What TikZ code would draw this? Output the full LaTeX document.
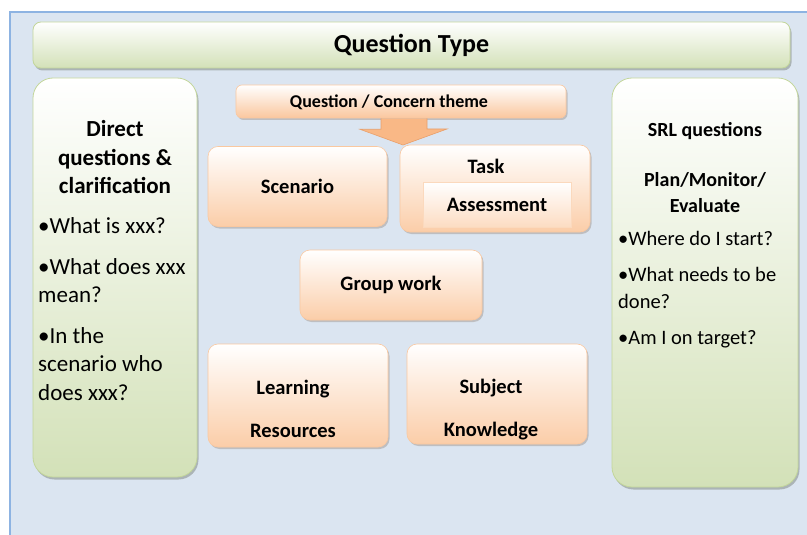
\documentclass[tikz,border=0pt]{standalone}
\usepackage{fontspec}
\setmainfont{Carlito}
\usetikzlibrary{shadows}

\definecolor{fondo}{HTML}{DBE5F1}
\definecolor{borde}{HTML}{8DB3E2}
\definecolor{verde}{HTML}{D3E1B8}
\definecolor{verdeborde}{HTML}{C3D69B}
\definecolor{naranja}{HTML}{FBCDA8}
\definecolor{naranjaborde}{HTML}{FAC8A0}
\definecolor{flecha}{HTML}{F9B886}
\definecolor{flechaborde}{HTML}{E9A06C}

\tikzset{
  cajaverde/.style={draw=verdeborde, line width=0.8pt, top color=white, bottom color=verde,
    rounded corners=20pt, inner sep=0pt,
    drop shadow={opacity=0.35, fill=black!60!verde, shadow xshift=1.5pt, shadow yshift=-2.5pt}},
  cajanaranja/.style={draw=naranjaborde, line width=0.6pt, top color=white, bottom color=naranja,
    rounded corners=10pt, inner sep=0pt, font=\bfseries\fontsize{20.5}{24}\selectfont,
    drop shadow={opacity=0.3, fill=black!50!naranja, shadow xshift=1.5pt, shadow yshift=-2pt}},
  rotulo/.style={font=\bfseries\fontsize{20.5}{24}\selectfont, inner sep=0pt, align=center},
}

\begin{document}
\begin{tikzpicture}[x=1pt,y=-1pt]
  \useasboundingbox (0,0) rectangle (807,535);

  % Fondo de la diapositiva
  \fill[fondo] (10,12) rectangle (807,535);
  \draw[borde, line width=1.2pt] (10,535) -- (10,12) -- (807,12);

  % Titulo
  \node[cajaverde, rounded corners=8pt, minimum width=757pt, minimum height=46pt,
        font=\bfseries\fontsize{26}{30}\selectfont] (titulo) at (411.5,45) {Question Type};

  % Columna izquierda: preguntas directas
  \node[cajaverde, minimum width=164pt, minimum height=399pt] (izq) at (115,277.5) {};
  \node[anchor=north, inner sep=0pt, align=center, font=\bfseries\fontsize{23}{28.5}\selectfont]
    (izqtit) at (115,120.5) {Direct\\questions \&\\clarification};
  \node[anchor=north west, inner sep=0pt, align=left, font=\fontsize{23}{28.5}\selectfont]
    (izqlista) at (38,217.5) {\textbullet What is xxx?\\[12pt]
      \textbullet What does xxx\\mean?\\[12pt]
      \textbullet In the\\scenario who\\does xxx?};

  % Columna derecha: preguntas SRL
  \node[cajaverde, minimum width=186pt, minimum height=409pt] (der) at (705,282.5) {};
  \node[anchor=north, inner sep=0pt, align=center, font=\bfseries\fontsize{20}{25.5}\selectfont]
    (dertit) at (705,122) {SRL questions\\[25pt]Plan/Monitor/\\Evaluate};
  \node[anchor=north west, inner sep=0pt, align=left, font=\fontsize{20.5}{27}\selectfont]
    (derlista) at (618,231) {\textbullet Where do I start?\\[9pt]
      \textbullet What needs to be\\done?\\[9pt]
      \textbullet Am I on target?};

  % Tema de la pregunta y flecha
  \node[cajanaranja, rounded corners=6pt, minimum width=330pt, minimum height=33pt,
        bottom color=naranja!70!flecha] (tema) at (401,101.5) {};
  \node[rotulo, anchor=base, font=\bfseries\fontsize{18}{20}\selectfont] (tematxt) at (389,108) {Question / Concern theme};
  \coordinate (punta) at (403,145);
  \path[fill=flecha, draw=flechaborde, line width=0.6pt]
    ([xshift=-22pt]punta |- tema.south) -- ++(0,11) -- ++(-21,0) -- (punta)
    -- ++(44,-16) -- ++(-20,0) -- ([xshift=24pt]punta |- tema.south);

  % Cajas centrales
  \node[cajanaranja, minimum width=179pt, minimum height=80pt] (escenario) at (297.5,186.5) {Scenario};

  \node[cajanaranja, minimum width=190pt, minimum height=87pt] (tarea) at (495,188.5) {};
  \node[rotulo, anchor=base] (tareatxt) at (486,173) {Task};
  \node[draw=naranjaborde!70, top color=white, bottom color=naranja!70, minimum width=148pt,
        minimum height=45pt, inner sep=0pt, font=\bfseries\fontsize{20.5}{24}\selectfont]
    (evaluacion) at (497,204.5) {Assessment};

  \node[cajanaranja, minimum width=182pt, minimum height=70pt] (grupo) at (391,285) {Group work};

  \node[cajanaranja, minimum width=180pt, minimum height=103pt] (recursos) at (298,395.5) {};
  \node[rotulo, anchor=north] (recursostxt) at (293,379.5) {Learning\\[19pt]Resources};

  \node[cajanaranja, minimum width=180pt, minimum height=100pt] (materia) at (497,394) {};
  \node[rotulo, anchor=north] (materiatxt) at (491,379) {Subject\\[19pt]Knowledge};
\end{tikzpicture}
\end{document}
